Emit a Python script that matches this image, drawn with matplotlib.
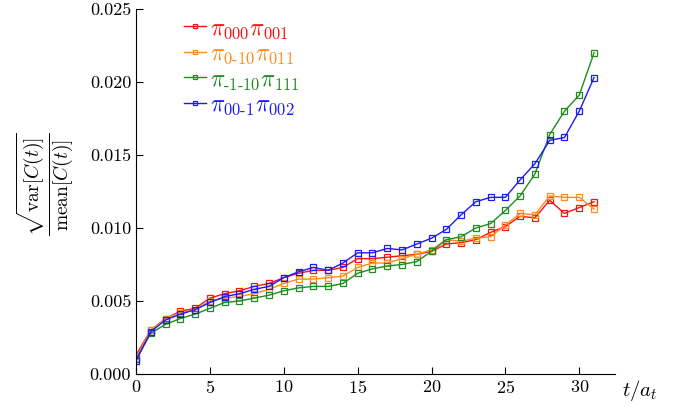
import matplotlib
matplotlib.use('Agg')
import matplotlib.pyplot as plt
from matplotlib.ticker import FormatStrFormatter, MultipleLocator

plt.rcParams['font.family'] = 'serif'
plt.rcParams['font.serif'] = ['cmr10', 'DejaVu Serif']
plt.rcParams['mathtext.fontset'] = 'cm'
plt.rcParams['axes.formatter.use_mathtext'] = True

t = list(range(32))

r000_001 = [0.0013, 0.0030, 0.0038, 0.0043, 0.0045, 0.0052, 0.0055, 0.0057, 0.0060, 0.0062,
            0.0066, 0.0069, 0.0071, 0.0071, 0.0073, 0.0079, 0.0079, 0.0080, 0.0081, 0.0082,
            0.0084, 0.0089, 0.0090, 0.0092, 0.0097, 0.0101, 0.0108, 0.0107, 0.0119, 0.0110,
            0.0114, 0.0118]
r0m10_011 = [0.0011, 0.0030, 0.0038, 0.0042, 0.0044, 0.0050, 0.0052, 0.0053, 0.0055, 0.0058,
             0.0062, 0.0065, 0.0065, 0.0066, 0.0067, 0.0073, 0.0076, 0.0076, 0.0079, 0.0082,
             0.0085, 0.0092, 0.0091, 0.0093, 0.0094, 0.0102, 0.0110, 0.0109, 0.0122, 0.0121,
             0.0121, 0.0113]
rm1m10_111 = [0.0010, 0.0028, 0.0034, 0.0038, 0.0041, 0.0045, 0.0049, 0.0050, 0.0052, 0.0054,
              0.0057, 0.0059, 0.0060, 0.0060, 0.0062, 0.0069, 0.0072, 0.0074, 0.0075, 0.0077,
              0.0084, 0.0092, 0.0094, 0.0100, 0.0103, 0.0112, 0.0122, 0.0137, 0.0164, 0.0180,
              0.0191, 0.0220]
r00m1_002 = [0.0009, 0.0029, 0.0037, 0.0041, 0.0044, 0.0049, 0.0053, 0.0055, 0.0058, 0.0060,
             0.0066, 0.0070, 0.0073, 0.0071, 0.0076, 0.0083, 0.0083, 0.0086, 0.0085, 0.0089,
             0.0093, 0.0099, 0.0109, 0.0118, 0.0121, 0.0121, 0.0133, 0.0144, 0.0160, 0.0162,
             0.0180, 0.0203]

series = [
    (r000_001, r'$\pi_{000}\pi_{001}$', '#ff1010'),
    (r0m10_011, r'$\pi_{0\text{-}10}\pi_{011}$', '#ff8c1a'),
    (rm1m10_111, r'$\pi_{\text{-}1\text{-}10}\pi_{111}$', '#1e8c1e'),
    (r00m1_002, r'$\pi_{00\text{-}1}\pi_{002}$', '#1a1aff'),
]

fig = plt.figure(figsize=(6.8, 4.07), dpi=100)
ax = fig.add_axes([0.2, 0.081, 0.704, 0.897])

for y, lab, c in series:
    ax.plot(t, y, color=c, lw=1.0, marker='s', ms=4.2, mfc='none', mew=0.9, label=lab)

ax.set_xlim(0, 32.4)
ax.set_ylim(0, 0.025)
ax.xaxis.set_major_locator(MultipleLocator(5))
ax.yaxis.set_major_locator(MultipleLocator(0.005))
ax.yaxis.set_major_formatter(FormatStrFormatter('%.3f'))
ax.spines['top'].set_visible(False)
ax.spines['right'].set_visible(False)
ax.tick_params(direction='in', labelsize=13, length=5, top=False, right=False)

ax.set_ylabel(r'$\frac{\sqrt{\mathrm{var}\left[C(t)\right]}}{\mathrm{mean}\left[C(t)\right]}$',
              fontsize=20)
ax.yaxis.set_label_coords(-0.125, 0.52)
ax.text(1.053, -0.012, r'$t/a_t$', transform=ax.transAxes, fontsize=15,
        ha='center', va='top')

leg = ax.legend(loc='upper left', bbox_to_anchor=(0.055, 1.035), frameon=False,
                fontsize=17, handlelength=0.95, handletextpad=0.15, labelspacing=0.1,
                markerscale=0.7)
for txt, (_, _, c) in zip(leg.get_texts(), series):
    txt.set_color(c)

fig.savefig('out.png', dpi=100)
